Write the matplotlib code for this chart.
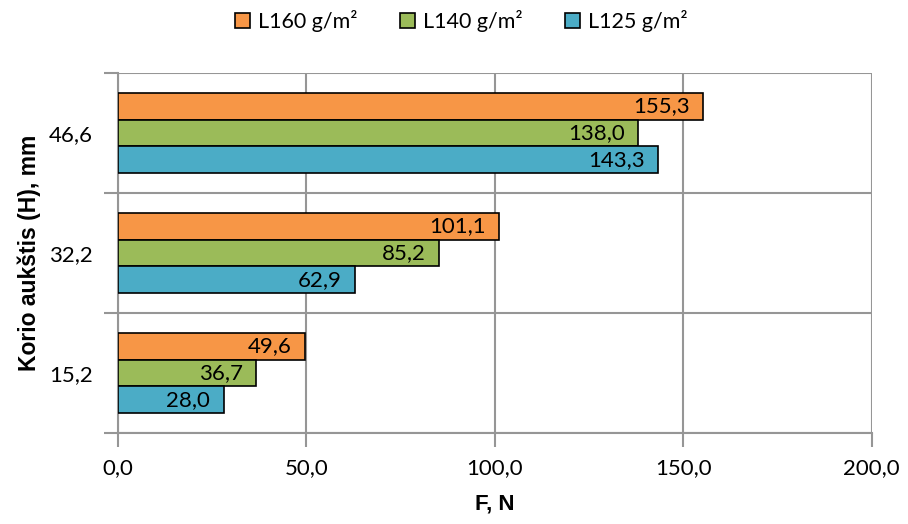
import matplotlib
matplotlib.use("Agg")
import matplotlib.pyplot as plt
import numpy as np

plt.rcParams["font.family"] = ["Lato", "DejaVu Sans"]

categories = ["15,2", "32,2", "46,6"]
series_names = ["L160 g/m²", "L140 g/m²", "L125 g/m²"]
l160 = [49.6, 101.1, 155.3]
l140 = [36.7, 85.2, 138.0]
l125 = [28.0, 62.9, 143.3]
colors = ["#F79646", "#9BBB59", "#4BACC6"]
x_ticks = [0, 50, 100, 150, 200]

fig = plt.figure(figsize=(9.08, 5.24), dpi=100)
ax = fig.add_axes([0.130, 0.1737, 0.830, 0.687])

y = np.arange(len(categories))
h = 0.222
offsets = [h, 0.0, -h]
for values, name, color, off in zip([l160, l140, l125], series_names, colors, offsets):
    bars = ax.barh(y + off, values, height=h, color=color, edgecolor="black",
                   linewidth=1.2, label=name, zorder=3)
    for bar, v in zip(bars, values):
        ax.text(bar.get_width() - 3.5, bar.get_y() + bar.get_height() / 2,
                f"{v:.1f}".replace(".", ","), ha="right", va="center",
                fontsize=16, color="black", zorder=4)

ax.set_xlim(0, 200)
ax.set_ylim(-0.5, len(categories) - 0.5)
ax.set_xticks(x_ticks)
ax.set_xticklabels([f"{t:.1f}".replace(".", ",") for t in x_ticks], fontsize=16)
ax.set_yticks(y)
ax.set_yticklabels(categories, fontsize=16)
ax.tick_params(axis="y", length=0, pad=18)
ax.set_yticks(np.arange(-0.5, len(categories)), minor=True)
ax.tick_params(axis="y", which="minor", length=10, width=1.5, color="#969696")
ax.tick_params(axis="x", length=10, width=1.5, color="#969696", pad=8)

ax.grid(True, axis="x", which="major", color="#969696", linewidth=1.5, zorder=0)
ax.grid(True, axis="y", which="minor", color="#969696", linewidth=1.5, zorder=0)
for side in ["top", "right"]:
    ax.spines[side].set_visible(False)
for side in ["left", "bottom"]:
    ax.spines[side].set_color("#969696")
    ax.spines[side].set_linewidth(1.5)

label_font = ["Liberation Sans", "DejaVu Sans"]
ax.set_xlabel("F, N", fontsize=16, fontweight="bold", family=label_font, labelpad=11)
ax.set_ylabel("Korio aukštis (H), mm", fontsize=16.5, fontweight="bold",
              family=label_font, labelpad=6)

fig.legend(loc="center", bbox_to_anchor=(0.508, 0.96), ncol=3, frameon=False,
           fontsize=15.5, handlelength=0.7, handleheight=0.7, handletextpad=0.35,
           columnspacing=2.0)

fig.savefig("out.png", dpi=100)
